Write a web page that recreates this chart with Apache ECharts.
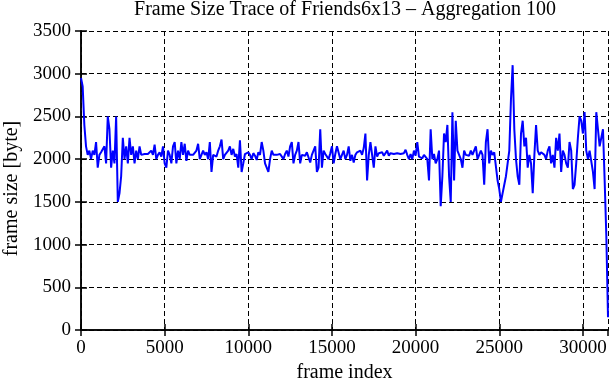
<!DOCTYPE html>
<html>
<head>
<meta charset="utf-8">
<script src="https://cdn.jsdelivr.net/npm/echarts@6/dist/echarts.min.js"></script>
<style>
  html, body { margin: 0; padding: 0; background: #fff; }
  #chart { width: 611px; height: 380px; }
</style>
</head>
<body>
<div id="chart"></div>
<script>
(function() {
  // aggregated frame size, one value per 100 frames
  var frameStep = 100;
  var frameSize = [
    2950, 2850, 2400, 2150, 2050, 2100, 2000, 2100, 2050, 2200,
    1900, 2050, 2080, 2060, 2150, 1950, 2500, 2350, 1900, 2100,
    1950, 2500, 1500, 1600, 1800, 2250, 2000, 2150, 1950, 2250,
    2050, 2150, 1950, 2100, 2000, 2150, 2050, 2070, 2060, 2080,
    2060, 2050, 2100, 2050, 2170, 2000, 2050, 2080, 2030, 2150,
    1950, 1900, 2100, 2050, 1950, 2150, 2200, 1950, 2100, 2000,
    2200, 2050, 2180, 1980, 2100, 2050, 2070, 2050, 2060, 2100,
    2180, 2000, 1980, 2100, 2050, 2080, 2000, 2200, 1850, 2050,
    2050, 2030, 2100, 2150, 2230, 2000, 2050, 2030, 2100, 2150,
    2050, 2120, 2030, 2060, 1900, 2220, 1850, 1950, 2060, 2040,
    2080, 2050, 2000, 2070, 2040, 1990, 2080, 2050, 2200, 2100,
    1950, 1950, 1850, 2000, 2100, 2050, 2060, 2050, 2040, 2060,
    2050, 2000, 2060, 2100, 2030, 2150, 2200, 1950, 2050, 2100,
    2200, 1950, 2050, 2060, 2040, 2080, 2060, 1960, 2050, 2100,
    2150, 1850, 1900, 2350, 1900, 2100, 2060, 2050, 2000, 2070,
    2150, 1950, 2060, 2150, 2130, 2000, 2050, 2100, 2000, 2050,
    2150, 1980, 2050, 1960, 2050, 2080, 2060, 2100, 2050, 2130,
    2300, 1750, 2050, 2200, 2180, 1900, 2150, 2030, 2070, 2050,
    2080, 2040, 2060, 2100, 2040, 2070, 2050, 2060, 2040, 2070,
    2050, 2060, 2040, 2070, 2110, 2050, 2000, 2060, 2000, 2100,
    2040, 2200, 2030, 2050, 2010, 2050, 2060, 2000, 1750, 2350,
    2000, 2060, 1950, 2000, 2100, 1450, 1800, 2300, 2200, 2400,
    1800, 1500, 2550, 1750, 2450, 2100, 2120, 2000, 1900, 2100,
    2050, 2070, 2040, 2100, 2050, 2100, 2150, 2000, 2050, 2100,
    2050, 1700, 2200, 2350, 1950, 2100, 2050, 2080, 2100, 1750,
    1650, 1500, 1600, 1700, 1800, 1950, 2100, 2700, 3100, 2350,
    2000, 1800, 1700, 2300, 2450, 2150, 2250, 1900, 2050, 1950,
    1600, 2050, 2400, 2100, 2050, 2080, 2100, 2050, 2000, 2100,
    2150, 1950, 2050, 1900, 2250, 2100, 2300, 1850, 2100, 2050,
    1950, 1900, 2200, 2100, 1650, 1700, 1950, 2250, 2500, 2450,
    2300, 2550, 2100, 2000, 2100, 2120, 1850, 1650, 2550, 2350,
    2150, 2250, 2350, 1750, 1100, 150
  ];

  var points = frameSize.map(function(v, i) { return [i * frameStep, v]; });

  var font = 'Liberation Serif, Times New Roman, serif';
  var ink = '#000';
  var dash = { color: ink, width: 1, type: [5, 3] };
  var boxLine = { show: true, lineStyle: { color: ink, width: 1.5 } };
  var tick = { show: true, inside: true, length: 6, lineStyle: { color: ink, width: 1.5 } };
  var plain = function(v) { return String(v); };

  var chart = echarts.init(document.getElementById('chart'), null, { renderer: 'canvas' });
  chart.setOption({
    animation: false,
    backgroundColor: '#fff',
    title: {
      text: 'Frame Size Trace of Friends6x13 \u2013 Aggregation 100',
      left: 345,
      textAlign: 'center',
      top: 0,
      padding: 0,
      textStyle: { fontFamily: font, fontSize: 20, fontWeight: 'normal', color: ink }
    },
    grid: { left: 81, right: 3, top: 31, bottom: 50, outerBoundsMode: 'none' },
    xAxis: [{
      type: 'value', min: 0, max: 31500, interval: 5000,
      name: 'frame index', nameLocation: 'middle', nameGap: 32,
      nameTextStyle: { fontFamily: font, fontSize: 20, color: ink },
      axisLine: boxLine, axisTick: tick,
      axisLabel: { fontFamily: font, fontSize: 19, color: ink, margin: 9, showMaxLabel: false, formatter: plain },
      splitLine: { show: true, lineStyle: dash }
    }, {
      type: 'value', position: 'top', min: 0, max: 31500, interval: 5000,
      axisLine: boxLine, axisTick: tick,
      axisLabel: { show: false }, splitLine: { show: false }
    }],
    yAxis: [{
      type: 'value', min: 0, max: 3500, interval: 500,
      name: 'frame size [byte]', nameLocation: 'middle', nameGap: 59,
      nameTextStyle: { fontFamily: font, fontSize: 20, color: ink, padding: [0, 16, 0, 0] },
      axisLine: boxLine, axisTick: tick,
      axisLabel: { fontFamily: font, fontSize: 19, color: ink, margin: 10, formatter: plain },
      splitLine: { show: true, lineStyle: dash }
    }, {
      type: 'value', position: 'right', min: 0, max: 3500, interval: 500,
      axisLine: boxLine, axisTick: tick,
      axisLabel: { show: false }, splitLine: { show: false }
    }],
    series: [{
      type: 'line',
      data: points,
      symbol: 'none',
      lineStyle: { color: '#0000ff', width: 2 },
      itemStyle: { color: '#0000ff' }
    }]
  });
})();
</script>
</body>
</html>
